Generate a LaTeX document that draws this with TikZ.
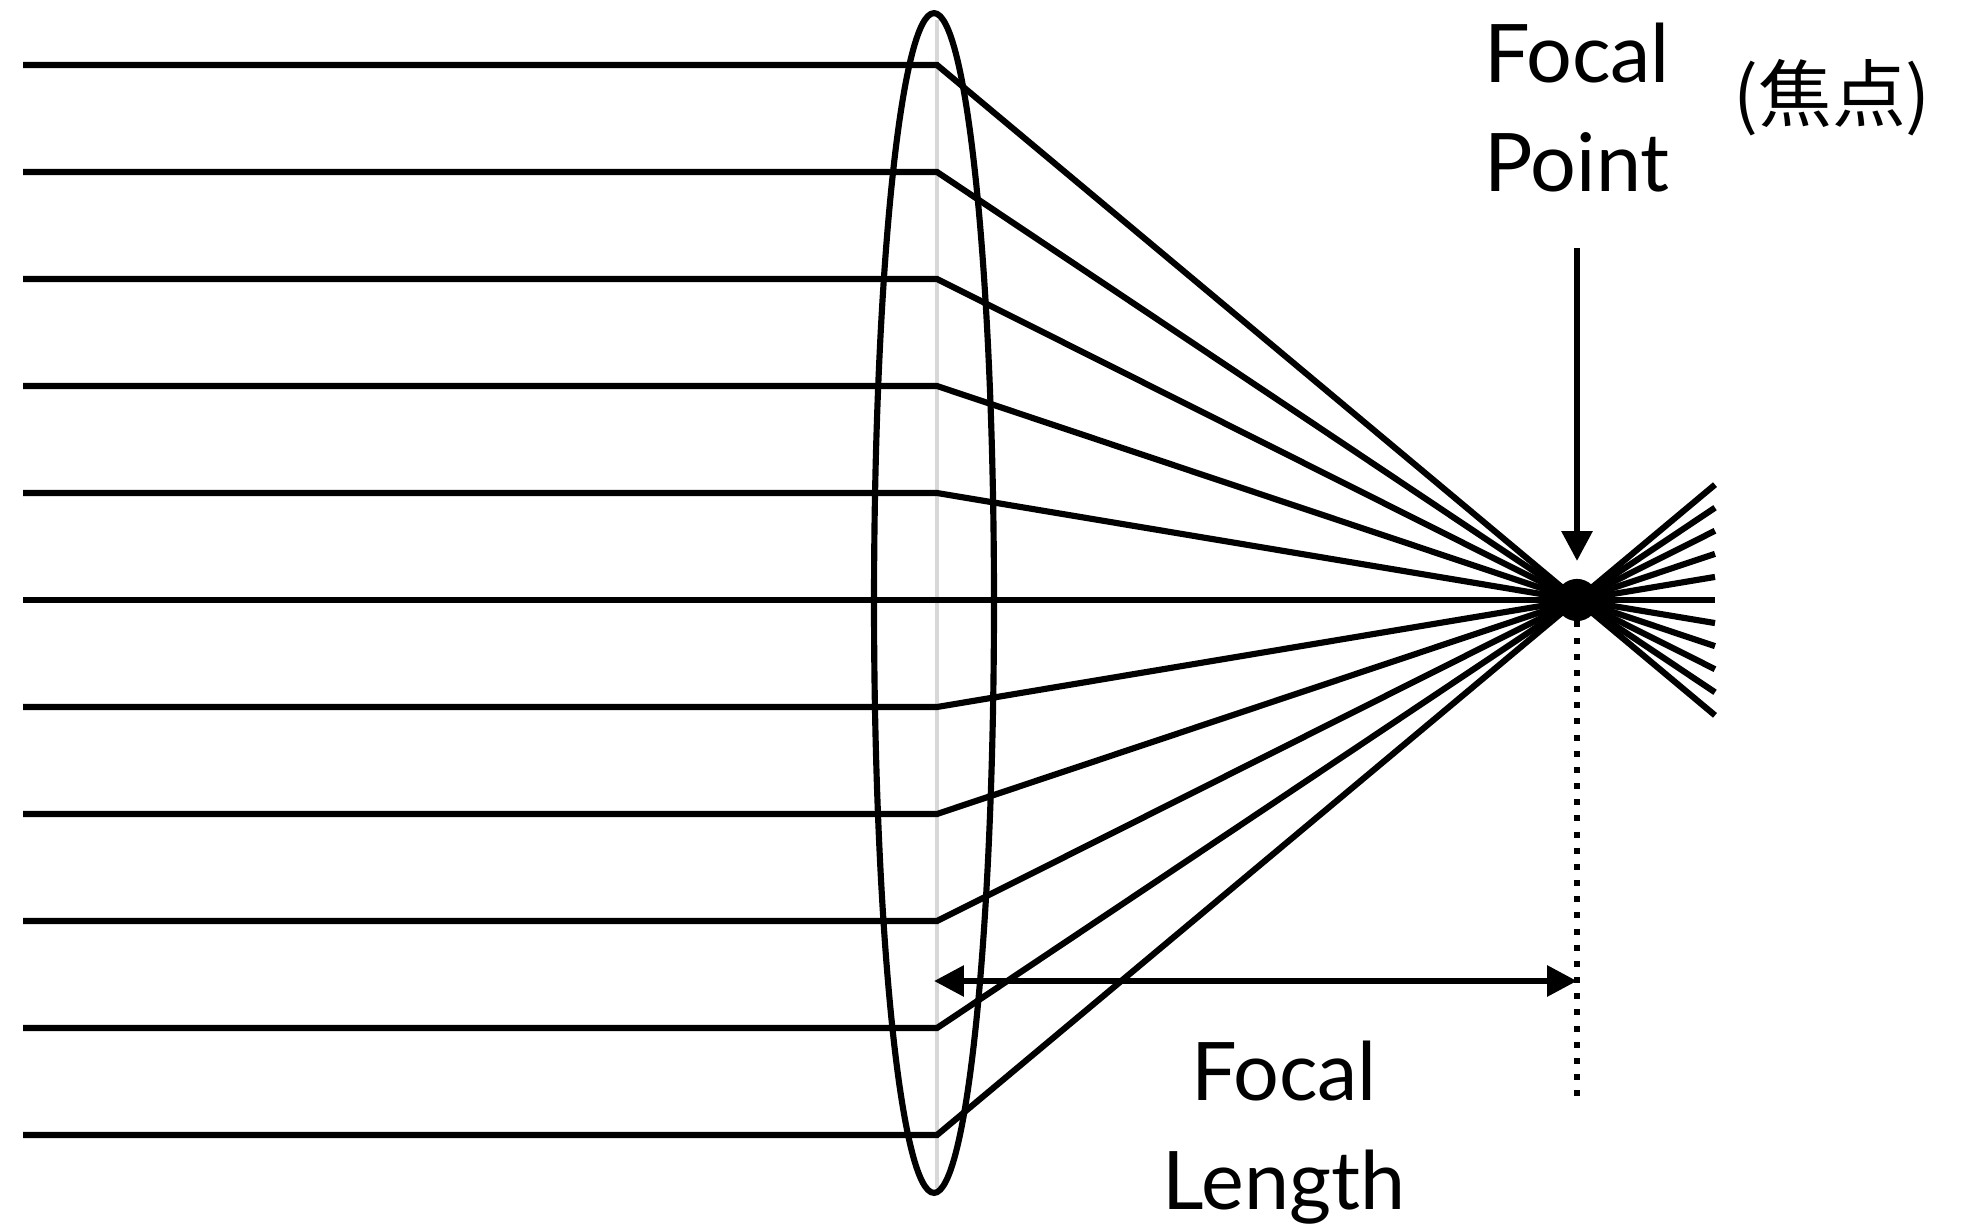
\documentclass[tikz,border=0pt]{standalone}
\usepackage{fontspec}
\setmainfont{Lato}
\newfontfamily\cjk{Noto Sans CJK JP}
\usepackage{tikz}
\usetikzlibrary{arrows.meta, calc, shapes.geometric}
\definecolor{lensaxis}{HTML}{D8D8D8}

\begin{document}
\begin{tikzpicture}[
  x=0.02cm, y=-0.02cm,
  >={Triangle[length=17pt, width=17pt]},
  ray/.style={line width=3.5pt},
  lensshape/.style={draw, ellipse, line width=3.5pt, inner sep=0pt,
    minimum width=2.4cm, minimum height=23.6cm},
  axis/.style={lensaxis, line width=2pt},
  focus/.style={circle, fill, inner sep=0pt, minimum size=24pt},
  arrow/.style={->, line width=3.5pt},
  dimarrow/.style={<->, line width=3.5pt},
  guide/.style={line width=3.4pt, dash pattern=on 3.4pt off 5.8pt},
  lbl/.style={font=\fontsize{46}{62}\selectfont, align=center},
]
\useasboundingbox (0,0) rectangle (1970,1229);

% Lens axis
\coordinate (axtop) at (937,20);
\coordinate (axbot) at (937,1188);
\draw[axis] (axtop) -- (axbot);

% Focal point
\node[focus] (F) at (1577,600) {};

% Rays through the lens
\foreach \i in {0,...,10}{
  \pgfmathsetmacro\ry{65+107*\i}
  \coordinate (in\i) at (23,\ry);
  \coordinate (bend\i) at (937,\ry);
  \draw[ray] (in\i) -- (bend\i) -- ($(bend\i)!1.2156!(F)$);
}

% Lens
\node[lensshape] (lens) at (934,603) {};

% Labels
\node[lbl] (fplabel) at (1577,108) {Focal\\Point};
\node[font=\cjk\fontsize{42}{50}\selectfont] (jp) at (1832,98) {(焦点)};
\node[lbl] (fllabel) at (1284,1133) {Focal\\Length};

% Arrows
\draw[arrow, shorten <=28pt, shorten >=10pt] (fplabel.south) -- (F.north);
\coordinate (dimL) at (lens.center |- 0,981);
\coordinate (dimR) at (F |- dimL);
\draw[dimarrow] (dimL) -- (dimR);
\coordinate (guideend) at (1577,1106);
\draw[guide] (F.south) -- (guideend);

\end{tikzpicture}
\end{document}
